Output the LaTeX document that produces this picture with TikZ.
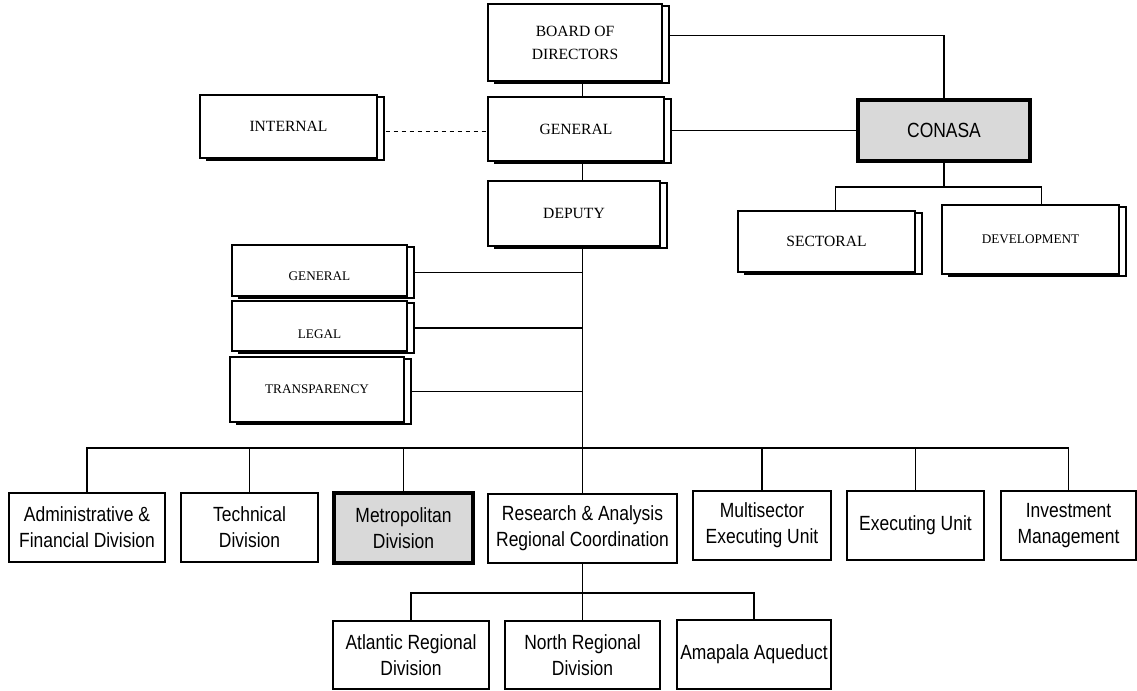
\documentclass[tikz,border=0pt]{standalone}
\usepackage{fontspec}
\setmainfont{Liberation Serif}
\newfontfamily\narrowsans[FakeStretch=0.85]{Liberation Sans}
\usetikzlibrary{shadows,backgrounds}
\definecolor{boxgray}{RGB}{217,217,217}

\begin{document}
\begin{tikzpicture}[x=0.75pt,y=-0.75pt,
    every node/.style={inner sep=1pt, align=center},
    unitbox/.style={draw, line width=0.9pt, fill=white, font=\fontsize{11.7}{17.25}\selectfont,
        copy shadow={shadow xshift=5pt, shadow yshift=-1.5pt, draw=black, fill=white, line width=1.6pt}},
    smallunit/.style={unitbox, font=\fontsize{9.9}{12}\selectfont},
    divbox/.style={draw, line width=1.4pt, fill=white, font=\narrowsans\fontsize{15.4}{19.5}\selectfont},
    keybox/.style={line width=2.4pt, fill=boxgray},
    link/.style={line width=0.8pt}]
    \useasboundingbox (0,0) rectangle (1137,690);

    % Top units
    \node[unitbox, minimum width=130.5pt, minimum height=57.75pt] (board) at (575,42.5) {BOARD OF\\DIRECTORS};
    \node[unitbox, minimum width=132pt, minimum height=48pt] (general) at (576,129) {GENERAL};
    \node[unitbox, minimum width=129pt, minimum height=48.75pt] (deputy) at (574,213.5) {DEPUTY};
    \node[unitbox, minimum width=132.75pt, minimum height=47.25pt] (internal) at (288.5,126.5) {INTERNAL};

    % CONASA branch
    \node[divbox, keybox, minimum width=129pt, minimum height=45.75pt] (conasa) at (944,130.5) {CONASA};
    \node[unitbox, minimum width=132.75pt, minimum height=45.75pt] (sect) at (826.5,241.5) {SECTORAL};
    \node[smallunit, minimum width=132.75pt, minimum height=51.75pt] (devel) at (1030.5,239.5) {DEVELOPMENT};

    % Staff units
    \node[smallunit, minimum width=131.25pt, minimum height=38.25pt, text height=15.6pt] (sgen) at (319.5,270.5) {GENERAL};
    \node[smallunit, minimum width=131.25pt, minimum height=37.5pt, text height=18.6pt] (legal) at (319.5,326) {LEGAL};
    \node[smallunit, minimum width=130.5pt, minimum height=48.75pt] (transp) at (317,389.5) {TRANSPARENCY};

    % Divisions
    \node[divbox, minimum width=117pt, minimum height=51.75pt] (admin) at (87,527.5) {Administrative \&\\Financial Division};
    \node[divbox, minimum width=102.75pt, minimum height=51.75pt] (tech) at (249.5,527.5) {Technical\\Division};
    \node[divbox, keybox, minimum width=104.25pt, minimum height=52.5pt] (metro) at (403.5,528) {Metropolitan\\Division};
    \node[divbox, minimum width=141.75pt, minimum height=51.75pt] (research) at (582.5,528.5) {Research \& Analysis\\Regional Coordination};
    \node[divbox, minimum width=103.5pt, minimum height=51.75pt] (multi) at (762,525.5) {Multisector\\Executing Unit};
    \node[divbox, minimum width=102.75pt, minimum height=51.75pt] (exec) at (915.5,525.5) {Executing Unit};
    \node[divbox, minimum width=101.25pt, minimum height=51.75pt] (invest) at (1068.5,525.5) {Investment\\Management};

    % Regional divisions
    \node[divbox, minimum width=117pt, minimum height=51pt] (atlantic) at (411,655) {Atlantic Regional\\Division};
    \node[divbox, minimum width=116.25pt, minimum height=51pt] (northdiv) at (582.5,655) {North Regional\\Division};
    \node[divbox, minimum width=115.5pt, minimum height=51.75pt] (amapala) at (754,654.5) {Amapala Aqueduct};

    \coordinate (bus) at (583,448);
    \coordinate (cbus) at (944,187);
    \coordinate (rbus) at (583,593);

    \begin{scope}[on background layer]
    % trunk
    \draw[link] (board.south -| research.north) -- (general.north -| research.north);
    \draw[link] (general.south -| research.north) -- (deputy.north -| research.north);
    \draw[link] (deputy.south -| research.north) -- (research.north);
    \draw[link, dash pattern=on 3.5pt off 2.5pt] ([yshift=-4pt]internal.east) -- ([yshift=-4pt]internal.east -| general.west);
    \draw[link] ([yshift=5.6pt]board.east) -| (conasa.north);
    \draw[link] (conasa.west -| general.east) -- (conasa.west);
    \draw[link] (conasa.south) -- (cbus);
    \draw[link] ([xshift=6.4pt]sect.north) |- (cbus) -| ([xshift=7.9pt]devel.north);
    \foreach \n in {sgen,legal,transp}
        \draw[link] ([yshift=-1.5pt]\n.east) -- ([yshift=-1.5pt]\n.east -| research.north);
    % divisions bus
    \draw[link] (admin.north) |- (bus) -| (invest.north);
    \foreach \n in {tech,metro,multi,exec}
        \draw[link] (\n.north) -- (\n.north |- bus);
    % regional bus
    \draw[link] (research.south) -- (northdiv.north);
    \draw[link] (atlantic.north) |- (rbus) -| (amapala.north);
    \end{scope}
\end{tikzpicture}
\end{document}
